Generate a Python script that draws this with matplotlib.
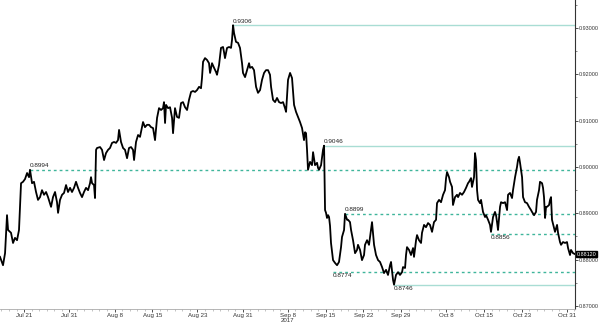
import numpy as np
import matplotlib
matplotlib.use("Agg")
from matplotlib import pyplot as plt
from matplotlib.ticker import MultipleLocator, FormatStrFormatter

plt.rcParams["font.family"] = ["Liberation Sans", "DejaVu Sans"]

# position in trading days since 2017-07-18, price
days = [-0.19, 0.21, 0.48, 0.74, 0.88, 1.27, 1.54, 1.80, 2.07, 2.33, 2.60, 2.86, 3.13, 3.40,
        3.66, 3.79, 4.06, 4.32, 4.59, 4.85, 5.12, 5.38, 5.65, 5.92, 6.18, 6.58, 6.84, 7.11,
        7.37, 7.51, 7.77, 8.04, 8.30, 8.57, 8.83, 9.10, 9.36, 9.63, 9.89, 10.16, 10.42, 10.69,
        10.95, 11.22, 11.49, 11.75, 11.88, 12.02, 12.28, 12.41, 12.55, 12.68, 13.08, 13.34,
        13.61, 13.87, 14.14, 14.40, 14.67, 14.93, 15.20, 15.46, 15.60, 15.86, 16.13, 16.39,
        16.66, 16.92, 17.19, 17.45, 17.59, 17.85, 18.12, 18.38, 18.65, 18.78, 19.04, 19.31,
        19.58, 19.84, 20.11, 20.37, 20.64, 20.90, 21.17, 21.43, 21.56, 21.70, 21.83, 22.10,
        22.36, 22.63, 22.76, 23.02, 23.29, 23.55, 23.82, 24.08, 24.35, 24.62, 24.88, 25.15,
        25.41, 25.68, 25.94, 26.21, 26.47, 26.60, 26.74, 27.00, 27.27, 27.53, 27.67, 27.93,
        28.20, 28.46, 28.59, 28.86, 29.12, 29.39, 29.52, 29.65, 29.92, 30.19, 30.45, 30.58,
        30.72, 30.85, 31.11, 31.38, 31.64, 31.91, 32.04, 32.31, 32.57, 32.84, 32.97, 33.24,
        33.50, 33.77, 34.03, 34.30, 34.56, 34.83, 35.09, 35.36, 35.62, 35.76, 36.02, 36.29,
        36.55, 36.82, 37.08, 37.35, 37.61, 37.75, 38.01, 38.28, 38.54, 38.81, 39.07, 39.34,
        39.60, 39.87, 40.13, 40.27, 40.40, 40.53, 40.66, 40.93, 41.19, 41.33, 41.59, 41.86,
        41.99, 42.12, 42.39, 42.65, 42.79, 42.92, 43.05, 43.18, 43.32, 43.45, 43.58, 43.71,
        43.85, 43.98, 44.24, 44.51, 44.77, 45.04, 45.17, 45.44, 45.57, 45.84, 45.97, 46.23,
        46.37, 46.63, 46.90, 47.16, 47.29, 47.56, 47.82, 48.09, 48.22, 48.49, 48.75, 49.02,
        49.15, 49.42, 49.68, 49.95, 50.21, 50.48, 50.74, 51.01, 51.27, 51.54, 51.67, 51.94,
        52.07, 52.33, 52.60, 52.86, 53.13, 53.26, 53.53, 53.66, 53.79, 54.06, 54.32, 54.59,
        54.72, 54.99, 55.12, 55.38, 55.65, 55.78, 56.05, 56.31, 56.58, 56.84, 57.11, 57.37,
        57.64, 57.77, 58.04, 58.30, 58.57, 58.83, 58.97, 59.10, 59.36, 59.50, 59.76, 59.89,
        60.16, 60.42, 60.56, 60.82, 61.09, 61.35, 61.62, 61.88, 62.02, 62.28, 62.41, 62.68,
        62.81, 62.94, 63.08, 63.21, 63.47, 63.61, 63.87, 64.14, 64.27, 64.54, 64.80, 64.93,
        65.20, 65.46, 65.60, 65.73, 65.86, 66.13, 66.26, 66.53, 66.79, 67.06, 67.19, 67.45,
        67.72, 67.85, 68.12, 68.38, 68.51, 68.65, 68.78, 69.05, 69.18, 69.44, 69.71, 69.97,
        70.24, 70.37, 70.64, 70.90, 71.03, 71.30, 71.43, 71.70, 71.83, 71.96, 72.10, 72.23,
        72.36, 72.63, 72.76, 72.89, 73.02, 73.29, 73.42, 73.69, 73.82, 74.08, 74.22, 74.48,
        74.75, 75.01, 75.15, 75.41, 75.54, 75.81, 76.07]

prices = [0.8806, 0.8788, 0.8814, 0.8896, 0.8864, 0.8858, 0.8836, 0.8847, 0.8842, 0.8864,
          0.8965, 0.8968, 0.8974, 0.8987, 0.8978, 0.8994, 0.8965, 0.8968, 0.8946, 0.8929,
          0.8935, 0.8950, 0.8940, 0.8946, 0.8935, 0.8914, 0.8935, 0.8946, 0.8924, 0.8901,
          0.8929, 0.8940, 0.8944, 0.8961, 0.8946, 0.8955, 0.8946, 0.8955, 0.8968, 0.8955,
          0.8944, 0.8935, 0.8946, 0.8955, 0.8950, 0.8965, 0.8978, 0.8965, 0.8961, 0.8933,
          0.9037, 0.9041, 0.9043, 0.9037, 0.9015, 0.9030, 0.9037, 0.9041, 0.9052, 0.9054,
          0.9052, 0.9058, 0.9080, 0.9054, 0.9041, 0.9037, 0.9019, 0.9041, 0.9043, 0.9037,
          0.9015, 0.9054, 0.9069, 0.9065, 0.9086, 0.9097, 0.9086, 0.9091, 0.9091, 0.9086,
          0.9084, 0.9058, 0.9106, 0.9127, 0.9123, 0.9127, 0.9140, 0.9095, 0.9134, 0.9127,
          0.9129, 0.9106, 0.9073, 0.9127, 0.9108, 0.9106, 0.9138, 0.9140, 0.9129, 0.9123,
          0.9145, 0.9162, 0.9164, 0.9162, 0.9166, 0.9173, 0.9170, 0.9192, 0.9227,
          0.9235, 0.9231, 0.9224, 0.9203, 0.9224, 0.9214, 0.9205, 0.9199, 0.9220, 0.9257,
          0.9259, 0.9248, 0.9235, 0.9257, 0.9259, 0.9257, 0.9274, 0.9306, 0.9289, 0.9270,
          0.9268, 0.9257, 0.9224, 0.9203, 0.9194, 0.9209, 0.9224, 0.9214, 0.9216, 0.9209,
          0.9173, 0.9160, 0.9166, 0.9188, 0.9203, 0.9209, 0.9209, 0.9199, 0.9173, 0.9145,
          0.9140, 0.9149, 0.9140, 0.9138, 0.9140, 0.9127, 0.9119, 0.9188, 0.9203, 0.9192,
          0.9134, 0.9119, 0.9108, 0.9097, 0.9084, 0.9058, 0.9075, 0.9073, 0.9037, 0.8994,
          0.9011, 0.9004, 0.9032, 0.9004, 0.9009, 0.8998, 0.8994, 0.9004, 0.9037, 0.9046,
          0.8907, 0.8901, 0.8890, 0.8896, 0.8892, 0.8873, 0.8836, 0.8817, 0.8799, 0.8793,
          0.8788, 0.8795, 0.8827, 0.8849, 0.8864, 0.8899, 0.8886, 0.8886, 0.8881, 0.8864,
          0.8842, 0.8814, 0.8821, 0.8832, 0.8821, 0.8799, 0.8810, 0.8832, 0.8842, 0.8832,
          0.8864, 0.8881, 0.8832, 0.8810, 0.8799, 0.8795, 0.8784, 0.8771, 0.8778, 0.8767,
          0.8788, 0.8795, 0.8756, 0.8746, 0.8767, 0.8773, 0.8767, 0.8773, 0.8784, 0.8782,
          0.8810, 0.8827, 0.8821, 0.8810, 0.8825, 0.8806, 0.8842, 0.8853, 0.8842, 0.8836,
          0.8858, 0.8875, 0.8870, 0.8879, 0.8875, 0.8860, 0.8881, 0.8886, 0.8922, 0.8929,
          0.8924, 0.8940, 0.8950, 0.8976, 0.8989, 0.8978, 0.8968, 0.8957, 0.8918, 0.8935,
          0.8940, 0.8935, 0.8944, 0.8940, 0.8946, 0.8955, 0.8965, 0.8968, 0.8976, 0.8957,
          0.8978, 0.9030, 0.9015, 0.8950, 0.8929, 0.8922, 0.8929, 0.8903, 0.8892, 0.8896,
          0.8886, 0.8875, 0.8860, 0.8892, 0.8903, 0.8896, 0.8881, 0.8864, 0.8914, 0.8924,
          0.8922, 0.8924, 0.8907, 0.8940, 0.8944, 0.8933, 0.8950, 0.8978, 0.9000, 0.9015,
          0.9022, 0.9009, 0.8978, 0.8935, 0.8924, 0.8922, 0.8914, 0.8907, 0.8903, 0.8896,
          0.8903, 0.8929, 0.8950, 0.8968, 0.8965, 0.8955, 0.8935, 0.8890, 0.8914, 0.8914,
          0.8918, 0.8929, 0.8935, 0.8886, 0.8868, 0.8860, 0.8875, 0.8858, 0.8838, 0.8832,
          0.8838, 0.8836, 0.8838, 0.8825, 0.8810, 0.8821, 0.8814, 0.8812]

# support / resistance levels: value, start day, style
level_values = [0.9306, 0.9046, 0.8994, 0.8899, 0.8856, 0.8774, 0.8746]
level_starts = [30.72, 42.79, 3.79, 45.57, 64.93, 43.98, 52.07]
level_solid = [True, True, False, False, False, False, True]
label_above = [True, True, True, True, False, False, False]

tick_dates = ["2017-07-21", "2017-07-31", "2017-08-08", "2017-08-15", "2017-08-23",
              "2017-08-31", "2017-09-08", "2017-09-15", "2017-09-22", "2017-09-29",
              "2017-10-08", "2017-10-15", "2017-10-23", "2017-10-31"]
tick_labels = ["Jul 21", "Jul 31", "Aug 8", "Aug 15", "Aug 23", "Aug 31", "Sep 8\n2017",
               "Sep 15", "Sep 22", "Sep 29", "Oct 8", "Oct 15", "Oct 23", "Oct 31"]
last_price = 0.88120

tick_pos = np.busday_count("2017-07-18", np.busday_offset(tick_dates, 0, roll="forward"))

fig = plt.figure(figsize=(6, 3.23), dpi=100)
ax = fig.add_axes([0, 14 / 323, 575 / 600, 309 / 323])

for val, start, solid, above in zip(level_values, level_starts, level_solid, label_above):
    if solid:
        ax.axhline(val, xmin=(start + 0.19) / 76.26, color="#a9ddd4", lw=1.0, zorder=1)
    else:
        ax.axhline(val, xmin=(start + 0.19) / 76.26, color="#3fb59b", lw=1.0,
                   ls=(0, (2, 2.2)), zorder=1)
    if above:
        ax.annotate(f"{val:.4f}", (start, val), xytext=(-0.5, 1.2), textcoords="offset points",
                    fontsize=4.6, color="#222222", va="bottom", ha="left")
    else:
        ax.annotate(f"{val:.4f}", (start, val), xytext=(-0.5, -1.2), textcoords="offset points",
                    fontsize=4.6, color="#222222", va="top", ha="left")

ax.plot(days, prices, color="black", lw=1.3, zorder=3)

ax.set_xlim(-0.19, 76.07)
ax.set_ylim(0.86935, 0.93604)

ax.spines["top"].set_visible(False)
ax.spines["left"].set_visible(False)
ax.spines["right"].set_color("#333333")
ax.spines["right"].set_linewidth(0.8)
ax.spines["bottom"].set_color("#aaaaaa")
ax.spines["bottom"].set_linewidth(0.6)

ax.yaxis.tick_right()
ax.yaxis.set_major_locator(MultipleLocator(0.01))
ax.yaxis.set_minor_locator(MultipleLocator(0.005))
ax.yaxis.set_major_formatter(FormatStrFormatter("%.5f"))
ax.tick_params(axis="y", which="major", labelsize=3.9, length=2, width=0.6, pad=0.5,
               colors="#333333")
ax.tick_params(axis="y", which="minor", length=1.5, width=0.5, colors="#555555")

ax.set_xticks(tick_pos)
ax.set_xticklabels(tick_labels, linespacing=0.95)
ax.xaxis.set_minor_locator(MultipleLocator(1))
ax.tick_params(axis="x", which="major", labelsize=4.4, length=2, width=0.6, pad=0.8,
               colors="#333333")
ax.tick_params(axis="x", which="minor", length=1.5, width=0.5, colors="#aaaaaa")
for t in ax.get_xticklines(minor=False):
    t.set_color("#aaaaaa")

# last price tag
ax.annotate(f"{last_price:.5f}", (1, last_price), xycoords=("axes fraction", "data"),
            xytext=(1.2, 0), textcoords="offset points", fontsize=3.9, color="white",
            va="center", ha="left", annotation_clip=False,
            bbox=dict(boxstyle="square,pad=0.12", fc="black", ec="black"))

plt.savefig("out.png", dpi=100)
plt.close()
